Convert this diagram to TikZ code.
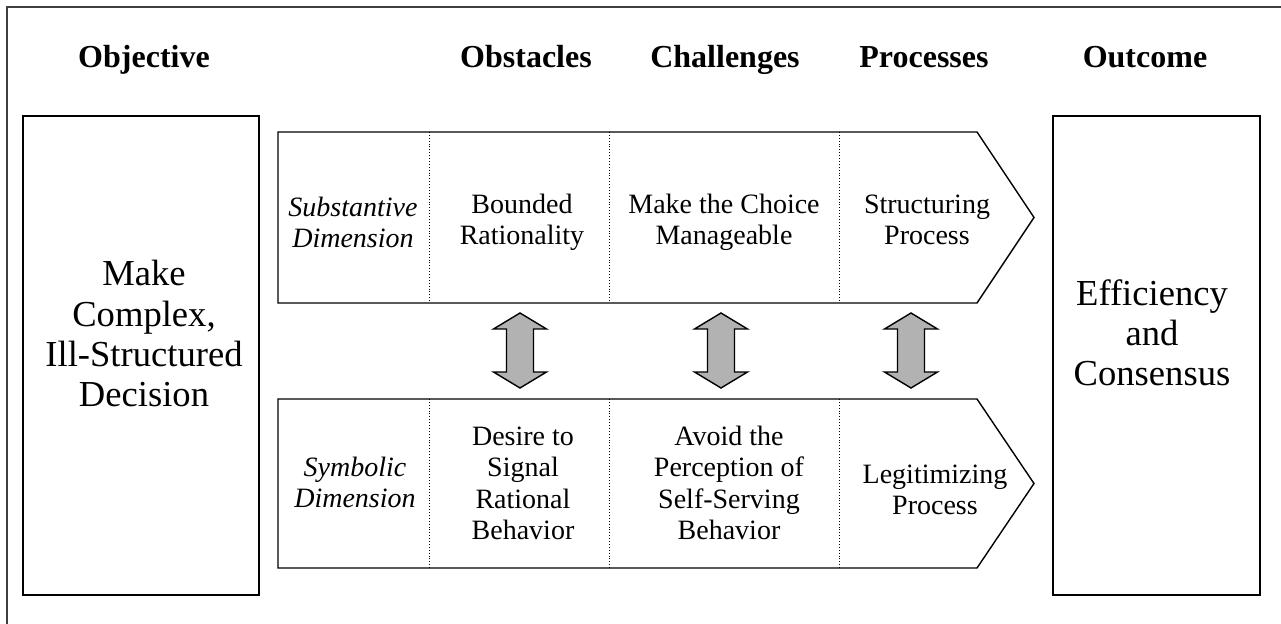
\documentclass[tikz,border=0pt]{standalone}
\usepackage{fontspec}
\setmainfont{Liberation Serif}

\begin{document}
\begin{tikzpicture}[
		x=0.5pt, y=-0.5pt
		,every node/.append style={inner sep=0pt, align=center, anchor=base}
		,head/.style={font=\fontsize{16}{18}\selectfont\bfseries}
		,cell/.style={font=\fontsize{14}{15.8}\selectfont}
		,dim/.style={font=\fontsize{14}{15.8}\selectfont\itshape}
		,big/.style={font=\fontsize{18.3}{20.2}\selectfont}
		,box/.style={draw, line width=0.75pt, anchor=center, minimum height=239.5pt}
		,band/.style={draw, line width=0.7pt, line join=miter}
		,sep/.style={densely dotted, line width=0.45pt}
		,twin/.style={draw, line width=0.7pt, fill=black!30}
	]
	\useasboundingbox (0,0) rectangle (1281,624);
	\draw [line width=0.75pt, black!75] (7,624) -- (7,7) -- (1281,7);

	% column heads
	\node [head] (hobj) at (144,68) {Objective};
	\node [head] (hobs) at (526,68) {Obstacles};
	\node [head] (hcha) at (725,68) {Challenges};
	\node [head] (hpro) at (924,68) {Processes};
	\node [head] (hout) at (1145,68) {Outcome};

	% objective and outcome
	\node [box, minimum width=118pt] (goal) at (141,355.5) {};
	\node [box, minimum width=103.5pt] (outc) at (1156.5,355.5) {};
	\node [big] (goaltxt) at (144,407) {Make\\Complex,\\Ill-Structured\\Decision};
	\node [big] (outctxt) at (1152,386) {Efficiency\\and\\Consensus};

	% the two bands
	\draw [band] (278,132) -- (977,132) -- (1034,217.5) -- (977,303) -- (278,303) -- cycle;
	\draw [band] (278,399) -- (977,399) -- (1034,483.5) -- (977,568) -- (278,568) -- cycle;
	\foreach \x in {429,609,839} {
		\draw [sep] (\x,132) -- (\x,303);
		\draw [sep] (\x,399) -- (\x,568);
	}

	\node [dim] (subst) at (353,248) {Substantive\\Dimension};
	\node [cell] (bound) at (522,245) {Bounded\\Rationality};
	\node [cell] (choice) at (724,245) {Make the Choice\\Manageable};
	\node [cell] (struct) at (927,245) {Structuring\\Process};

	\node [dim] (symb) at (355,508) {Symbolic\\Dimension};
	\node [cell] (desire) at (523,540) {Desire to\\Signal\\Rational\\Behavior};
	\node [cell] (avoid) at (729,540) {Avoid the\\Perception of\\Self-Serving\\Behavior};
	\node [cell] (legit) at (935,515) {Legitimizing\\Process};

	% two-way arrows between the bands
	\foreach \x in {520,721,911}
		\draw [twin] (\x,313) -- ++(26.5,16) -- ++(-13,0) -- ++(0,43) -- ++(13,0) -- (\x,388)
			-- ++(-26.5,-16) -- ++(13,0) -- ++(0,-43) -- ++(-13,0) -- cycle;
\end{tikzpicture}
\end{document}
